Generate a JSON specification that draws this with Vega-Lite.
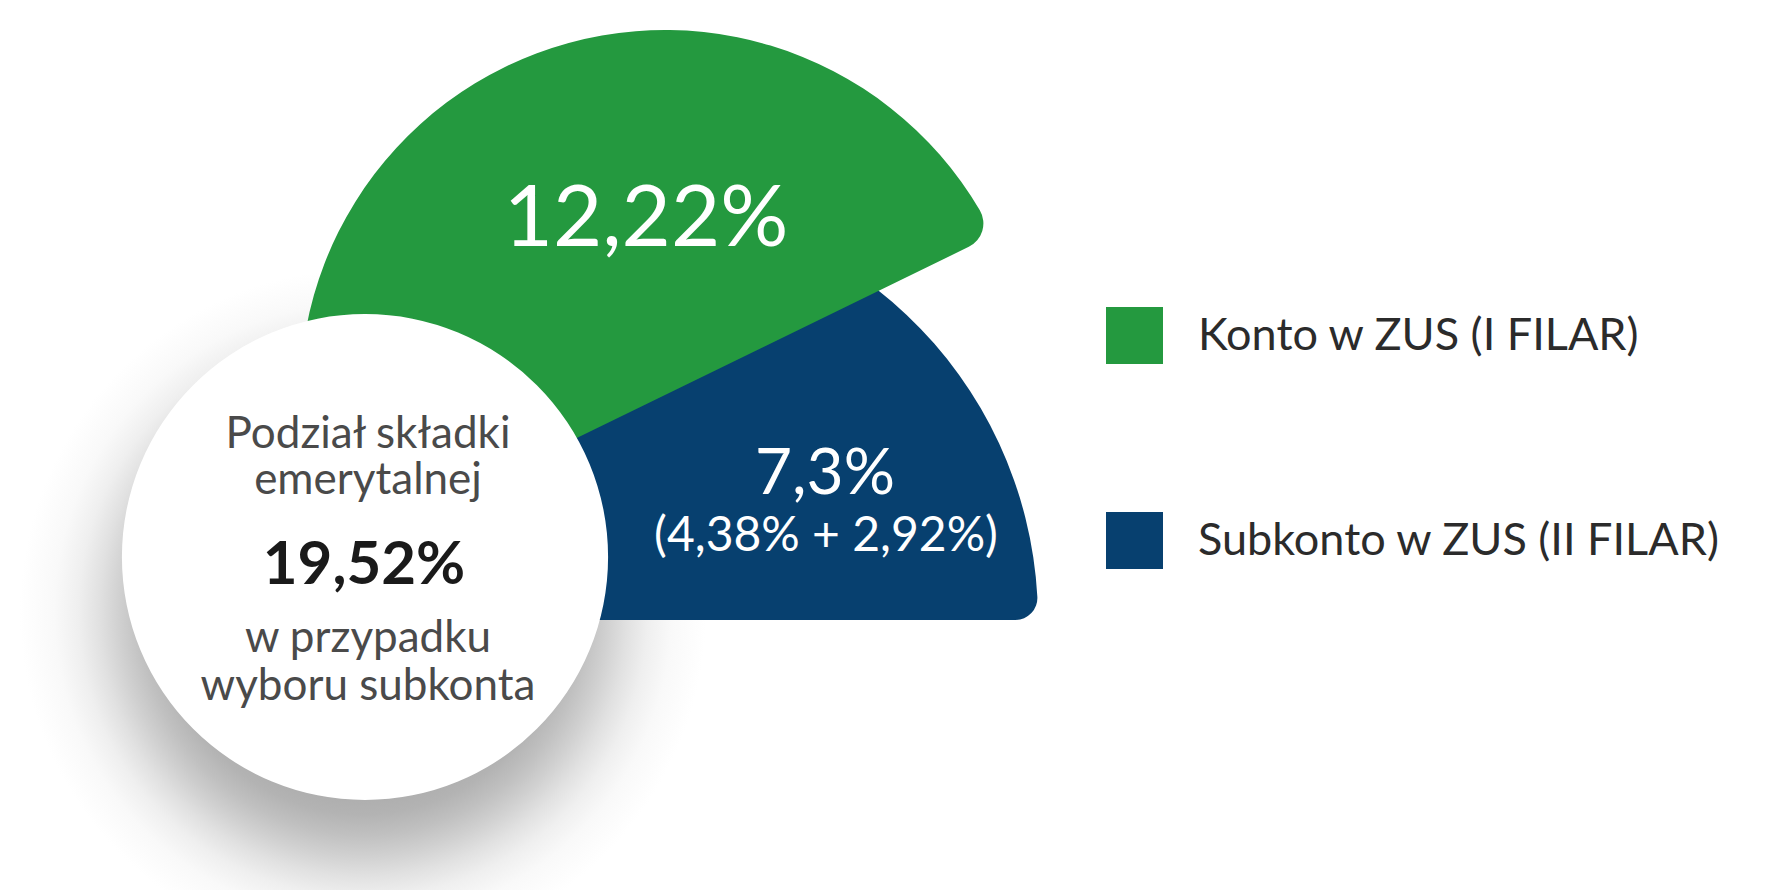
{
  "$schema": "https://vega.github.io/schema/vega-lite/v6.json",
  "width": 1770,
  "height": 890,
  "padding": 0,
  "autosize": {"type": "none"},
  "background": "#ffffff",
  "config": {"view": {"stroke": null}, "font": "Lato"},
  "datasets": {
    "shares": [
      {"konto": "Konto w ZUS (I FILAR)", "value": 12.22},
      {"konto": "Subkonto w ZUS (II FILAR)", "value": 7.3}
    ]
  },
  "layer": [
    {
      "data": {"values": [{}]},
      "mark": {
        "type": "arc", "x": 363, "y": 612, "outerRadius": 343, "theta": 0, "theta2": 6.2832,
        "fill": {
          "gradient": "radial", "x1": 0.5, "y1": 0.5, "r1": 0, "x2": 0.5, "y2": 0.5, "r2": 0.5,
          "stops": [
            {"offset": 0, "color": "#a5a5a5"},
            {"offset": 0.47, "color": "#a7a7a7"},
            {"offset": 0.59, "color": "#b3b3b3"},
            {"offset": 0.65, "color": "#c0c0c0"},
            {"offset": 0.71, "color": "#d0d0d0"},
            {"offset": 0.77, "color": "#e1e1e1"},
            {"offset": 0.83, "color": "#efefef"},
            {"offset": 0.9, "color": "#f9f9f9"},
            {"offset": 1, "color": "#ffffff"}
          ]
        }
      }
    },
    {
      "data": {"name": "shares"},
      "transform": [{"filter": "datum.konto === 'Subkonto w ZUS (II FILAR)'"}],
      "mark": {"type": "arc", "x": 618, "y": 620, "outerRadius": 420, "cornerRadius": 22},
      "encoding": {
        "theta": {"field": "value", "type": "quantitative", "stack": true,
          "scale": {"domain": [0, 7.3], "range": [-1.5708, 1.5708]}},
        "color": {"field": "konto", "type": "nominal",
          "scale": {"domain": ["Konto w ZUS (I FILAR)", "Subkonto w ZUS (II FILAR)"], "range": ["#24993f", "#07406f"]},
          "legend": {"orient": "none", "legendX": 1106, "legendY": 307, "title": null, "padding": 0,
            "symbolType": "square", "symbolSize": 3249, "symbolStrokeWidth": 0, "symbolOpacity": 1,
            "labelFont": "Lato", "labelFontSize": 45, "labelColor": "#2b2b2b", "labelOffset": 35,
            "labelLimit": 0, "rowPadding": 148}}
      }
    },
    {
      "data": {"name": "shares"},
      "transform": [{"filter": "datum.konto === 'Konto w ZUS (I FILAR)'"}],
      "mark": {"type": "arc", "x": 665, "y": 395, "outerRadius": 365, "cornerRadius": 26},
      "encoding": {
        "theta": {"field": "value", "type": "quantitative", "stack": true,
          "scale": {"domain": [0, 12.22], "range": [-2.0246, 1.117]}},
        "color": {"field": "konto", "type": "nominal",
          "scale": {"domain": ["Konto w ZUS (I FILAR)", "Subkonto w ZUS (II FILAR)"], "range": ["#24993f", "#07406f"]},
          "legend": {"orient": "none", "legendX": 1106, "legendY": 307, "title": null, "padding": 0,
            "symbolType": "square", "symbolSize": 3249, "symbolStrokeWidth": 0, "symbolOpacity": 1,
            "labelFont": "Lato", "labelFontSize": 45, "labelColor": "#2b2b2b", "labelOffset": 35,
            "labelLimit": 0, "rowPadding": 148}}
      }
    },
    {
      "data": {"values": [{}]},
      "mark": {"type": "arc", "x": 365, "y": 557, "outerRadius": 243, "theta": 0, "theta2": 6.2832, "fill": "#ffffff"}
    },
    {
      "data": {"values": [{}]},
      "mark": {"type": "text", "text": "12,22%", "x": 646, "y": 246, "align": "center", "baseline": "alphabetic",
        "font": "Lato", "fontSize": 85, "fill": "#ffffff"}
    },
    {
      "data": {"values": [{}]},
      "mark": {"type": "text", "text": "7,3%", "x": 825, "y": 494, "align": "center", "baseline": "alphabetic",
        "font": "Lato", "fontSize": 64, "fill": "#ffffff"}
    },
    {
      "data": {"values": [{}]},
      "mark": {"type": "text", "text": "(4,38% + 2,92%)", "x": 826, "y": 551, "align": "center", "baseline": "alphabetic",
        "font": "Lato", "fontSize": 48, "fill": "#ffffff"}
    },
    {
      "data": {"values": [{}]},
      "mark": {"type": "text", "text": "Podział składki", "x": 368, "y": 448,
        "align": "center", "baseline": "alphabetic", "font": "Lato", "fontSize": 44, "fill": "#4a4a4a"}
    },
    {
      "data": {"values": [{}]},
      "mark": {"type": "text", "text": "emerytalnej", "x": 368, "y": 494,
        "align": "center", "baseline": "alphabetic", "font": "Lato", "fontSize": 44, "fill": "#4a4a4a"}
    },
    {
      "data": {"values": [{}]},
      "mark": {"type": "text", "text": "19,52%", "x": 364, "y": 584, "align": "center", "baseline": "alphabetic",
        "font": "Lato", "fontSize": 60, "fontWeight": "bold", "fill": "#1a1a1a"}
    },
    {
      "data": {"values": [{}]},
      "mark": {"type": "text", "text": "w przypadku", "x": 368, "y": 652,
        "align": "center", "baseline": "alphabetic", "font": "Lato", "fontSize": 44, "fill": "#4a4a4a"}
    },
    {
      "data": {"values": [{}]},
      "mark": {"type": "text", "text": "wyboru subkonta", "x": 368, "y": 700,
        "align": "center", "baseline": "alphabetic", "font": "Lato", "fontSize": 44, "fill": "#4a4a4a"}
    }
  ],
  "resolve": {"scale": {"theta": "independent"}}
}
